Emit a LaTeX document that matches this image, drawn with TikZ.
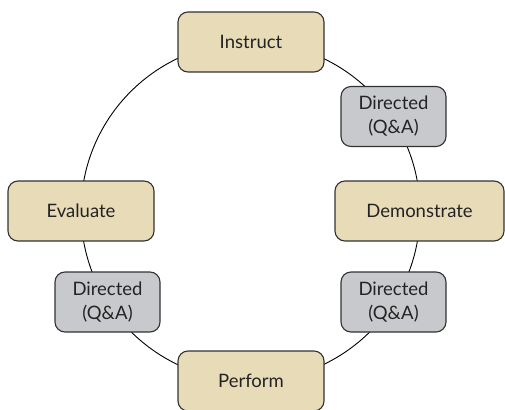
\documentclass[tikz,border=0pt]{standalone}
\usepackage{fontspec}
\setmainfont{Lato}
\definecolor{tanfill}{RGB}{232,219,183}
\definecolor{greyfill}{RGB}{200,201,204}
\definecolor{edgec}{RGB}{50,50,50}
\definecolor{txt}{RGB}{35,35,35}
\begin{document}
\begin{tikzpicture}[x=1pt,y=-1pt,
  stagebox/.style={draw=edgec,line width=1.1pt,fill=tanfill,rounded corners=10pt,minimum width=146pt,minimum height=60pt,inner sep=0pt,text=txt,font=\fontsize{18.5}{24}\selectfont},
  qabox/.style={draw=edgec,line width=1.1pt,fill=greyfill,rounded corners=10pt,minimum width=105pt,minimum height=60pt,inner sep=0pt,text=txt,align=center,font=\fontsize{18.5}{24}\selectfont},
  ring/.style={draw=black,line width=0.9pt}]
\useasboundingbox (0,0) rectangle (505,409);
\coordinate (c) at (250.5,211.5);
\draw[ring] (c) circle (169.5);
\node[stagebox] (instruct) at (251,42) {Instruct};
\node[stagebox,minimum width=169pt] (demo) at (419.5,211) {Demonstrate};
\node[stagebox] (perform) at (251,381) {Perform};
\node[stagebox] (evaluate) at (81,211) {Evaluate};
\node[qabox] (qa1) at (393.5,116.5) {Directed\\(Q\&A)};
\node[qabox] (qa2) at (393.5,302) {Directed\\(Q\&A)};
\node[qabox] (qa3) at (107.5,302) {Directed\\(Q\&A)};
\end{tikzpicture}
\end{document}
